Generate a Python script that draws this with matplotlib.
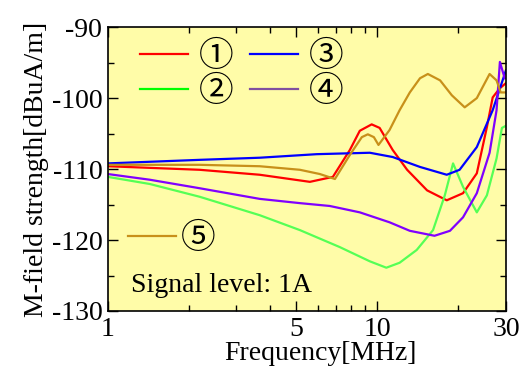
import matplotlib
matplotlib.use("Agg")
import matplotlib.pyplot as plt
from matplotlib.lines import Line2D
from matplotlib.ticker import FixedLocator, NullFormatter

plt.rcParams['axes.unicode_minus'] = False
plt.rcParams['font.family'] = ['Liberation Serif', 'DejaVu Serif']

# 曲线数据：频率 [MHz] 与 磁场强度 [dBuA/m]
freq_1 = [1.0, 2.19, 3.66, 5.62, 6.84, 7.91, 8.61, 9.53, 10.2, 11.4, 12.9, 15.3, 18.1, 20.8, 23.4, 25.5, 26.8, 28.5, 30.0]
db_1 = [-109.6, -110.1, -110.8, -111.8, -111.1, -107.3, -104.6, -103.7, -104.2, -107.3, -110.1, -113.0, -114.4, -113.4, -110.6, -104.1, -99.9, -98.6, -97.9]

freq_2 = [1.0, 1.43, 2.19, 3.66, 5.16, 7.26, 9.38, 10.8, 12.1, 14.0, 16.1, 17.8, 19.1, 20.8, 23.4, 25.5, 27.7, 29.0, 30.0]
db_2 = [-111.1, -112.1, -113.9, -116.5, -118.6, -121.0, -123.0, -123.9, -123.2, -121.4, -118.6, -113.7, -109.2, -112.5, -116.1, -113.7, -108.5, -104.2, -103.9]

freq_3 = [1.0, 2.19, 3.66, 5.96, 9.38, 11.4, 14.4, 18.1, 20.2, 23.4, 26.8, 30.0]
db_3 = [-109.2, -108.7, -108.4, -107.9, -107.7, -108.3, -109.7, -110.8, -110.1, -106.9, -101.7, -96.1]

freq_4 = [1.0, 1.43, 2.19, 3.66, 5.16, 6.66, 8.61, 11.1, 13.2, 16.3, 18.6, 20.8, 23.4, 26.1, 27.7, 28.5, 29.7]
db_4 = [-110.7, -111.5, -112.7, -114.2, -114.8, -115.2, -116.1, -117.5, -118.7, -119.4, -118.7, -116.8, -113.4, -107.7, -101.7, -94.9, -97.2]

freq_5 = [1.0, 2.19, 3.66, 5.16, 6.12, 6.96, 7.91, 8.76, 9.22, 9.71, 10.1, 11.1, 12.1, 13.2, 14.4, 15.4, 17.1, 18.9, 21.1, 23.4, 26.1, 27.7, 28.7, 30.0]
db_5 = [-109.4, -109.4, -109.6, -110.1, -110.7, -111.4, -108.0, -105.5, -105.1, -105.5, -106.6, -104.5, -101.7, -99.2, -97.2, -96.6, -97.5, -99.6, -101.3, -100.0, -96.6, -97.5, -99.2, -99.2]

labels = ['①', '②', '③', '④', '⑤']
colors = ['#ff0000', '#55ff55', '#0000ff', '#8000ff', '#c8901a']
legend_colors = ['#ff0000', '#00ff00', '#0000ff', '#80509f', '#c8901a']

x_ticks = [1, 5, 10, 30]
x_minor = [2, 3, 4, 6, 7, 8, 9, 20]
y_ticks = [-130, -120, -110, -100, -90]

fig = plt.figure(figsize=(5.21, 3.72), dpi=100)
ax = fig.add_axes([0.207, 0.164, 0.764, 0.763])
ax.set_facecolor('#fffca8')

series = [(freq_1, db_1), (freq_2, db_2), (freq_3, db_3), (freq_4, db_4), (freq_5, db_5)]
for (f, d), c in zip(series, colors):
    ax.plot(f, d, color=c, linewidth=1.6)

ax.set_xscale('log')
ax.set_xlim(1, 30)
ax.set_ylim(-130, -90)
ax.xaxis.set_major_locator(FixedLocator(x_ticks))
ax.xaxis.set_minor_locator(FixedLocator(x_minor))
ax.xaxis.set_minor_formatter(NullFormatter())
ax.set_xticklabels([str(v) for v in x_ticks])
ax.set_yticks(y_ticks)
ax.set_yticks([-125, -115, -105, -95], minor=True)
ax.tick_params(which='both', direction='in', top=True, right=True, labelsize=20)
ax.tick_params(which='major', length=7, width=1, pad=4)
ax.tick_params(which='minor', length=4, width=1)
for spine in ax.spines.values():
    spine.set_linewidth(1.2)
    spine.set_color('black')

ax.set_xlabel('Frequency[MHz]', fontsize=20)
ax.xaxis.set_label_coords(0.533, -0.105)
ax.set_ylabel('M-field strength[dBuA/m]', fontsize=20, labelpad=2)

# 图例（手动代理线）
handles = [Line2D([], [], color=c, linewidth=1.6, label=lab) for c, lab in zip(legend_colors, labels)]
circ_font = {'family': ['Noto Sans CJK JP', 'DejaVu Sans'], 'size': 25}
leg1 = ax.legend(handles=[handles[0], handles[1], handles[2], handles[3]], ncol=2, loc='upper left',
                 bbox_to_anchor=(0.08, 0.958), frameon=False, prop=circ_font, borderpad=0, borderaxespad=0,
                 handlelength=1.38, handletextpad=0.32, columnspacing=0.48, labelspacing=0.0)
ax.add_artist(leg1)
ax.legend(handles=[handles[4]], loc='upper left', bbox_to_anchor=(0.05, 0.318), frameon=False,
          prop=circ_font, borderpad=0, borderaxespad=0, handlelength=1.38, handletextpad=0.15)

ax.text(0.058, 0.068, 'Signal level: 1A', transform=ax.transAxes, fontsize=20, va='baseline')

fig.savefig('out.png', dpi=100)
